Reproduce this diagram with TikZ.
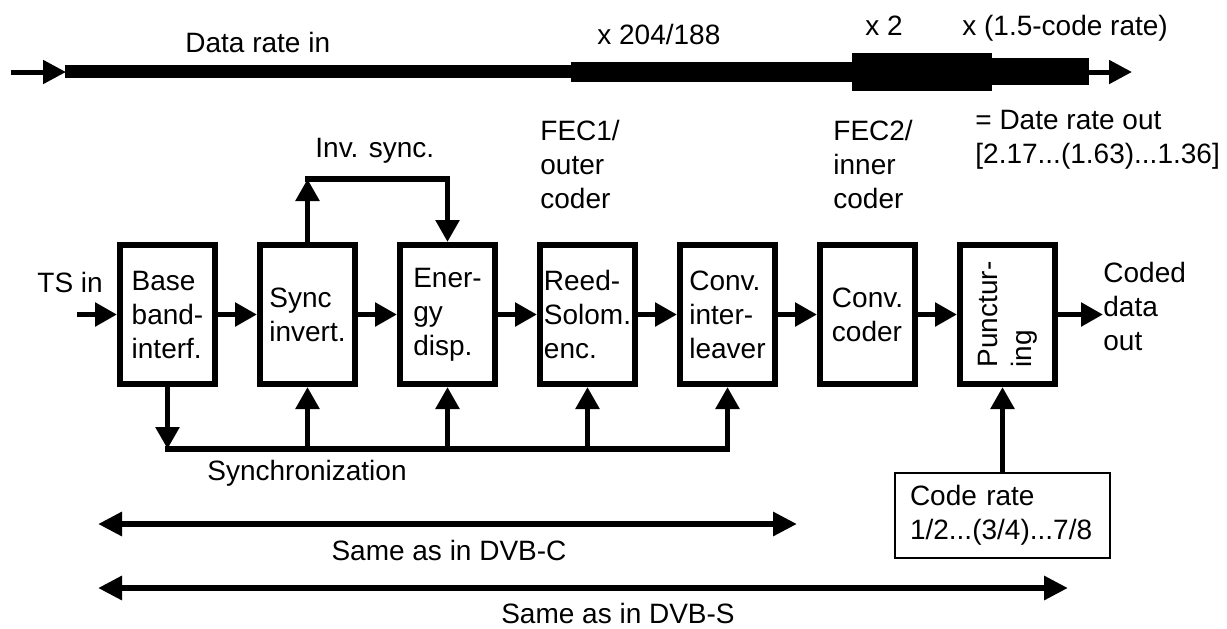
\documentclass[tikz,border=0pt]{standalone}
\usepackage{fontspec}
\setmainfont{Liberation Sans}
\usetikzlibrary{arrows.meta}

\begin{document}
\begin{tikzpicture}[x=0.5pt,y=-0.5pt,
    every node/.style={font=\fontsize{14}{17}\selectfont,inner sep=0pt},
    blk/.style={draw,line width=3pt,minimum width=47.5pt,minimum height=69.5pt,align=left},
    con/.style={line width=2.8pt,-{Triangle[length=11pt,width=11.5pt]}},
    thinarr/.style={line width=2.5pt,-{Triangle[length=11.5pt,width=11.5pt]}},
    both/.style={line width=3pt,{Triangle[length=12pt,width=11.5pt]}-{Triangle[length=12pt,width=11.5pt]}},
    lbl/.style={anchor=base west,align=left}]
    \useasboundingbox (0,0) rectangle (1227,628);

    % data rate bar
    \fill (65,65) rectangle (571,78);
    \fill (571,62) rectangle (852,82);
    \fill (852,53) rectangle (992,91);
    \fill (992,58) rectangle (1089,85);
    \coordinate (in0) at (11,72);
    \coordinate (in1) at (66,72);
    \coordinate (out0) at (1088,72);
    \coordinate (out1) at (1132,72);
    \draw[thinarr] (in0) -- (in1);
    \draw[thinarr] (out0) -- (out1);
    \node (rin) at (185,52) [lbl] {Data rate in};
    \node (r1) at (597,44) [lbl] {x 204/188};
    \node (r2) at (865,35) [lbl] {x 2};
    \node (r3) at (962,35) [lbl] {x (1.5-code rate)};
    \node (rout) at (975,140) [anchor=west,align=left] {= Date rate out\\{[2.17...(1.63)...1.36]}};

    % blocks
    \node (b1) at (167.5,314.5) [blk] {Base\\band-\\interf.};
    \node (b2) at (307.5,314.5) [blk] {Sync\\invert.};
    \node (b3) at (447.5,314.5) [blk] {Ener-\\gy\\disp.};
    \node (b4) at (587.5,314.5) [blk] {Reed-\\Solom.\\enc.};
    \node (b5) at (727.5,314.5) [blk] {Conv.\\inter-\\leaver};
    \node (b6) at (867.5,314.5) [blk] {Conv.\\coder};
    \node (b7) at (1007.5,314.5) [blk] {};
    \node (p7) at (b7) [rotate=90,align=left] {Punctur-\\ing};

    \foreach \a/\b in {b1/b2,b2/b3,b3/b4,b4/b5,b5/b6,b6/b7}
        \draw[con] (\a.east) -- (\b.west);

    \node (fec1) at (540,164) [anchor=west,align=left] {FEC1/\\outer\\coder};
    \node (fec2) at (833,164) [anchor=west,align=left] {FEC2/\\inner\\coder};

    % in and out
    \node (ts) at (37,292) [lbl] {TS in};
    \coordinate (tsa) at (77,314.5);
    \draw[con] (tsa) -- (b1.west);
    \node (cout) at (1103,306) [anchor=west,align=left] {Coded\\data\\out};
    \draw[con] (b7.east) -- (b7.east -| cout.west);

    % inverted sync
    \coordinate (inv) at (307.5,179);
    \draw[con] (b2.north) -- (inv);
    \draw[con,line cap=rect] (inv) -| (b3.north);
    \node (invl) at (315,157) [lbl] {Inv. sync.};

    % synchronization
    \coordinate (sl) at (167.5,449);
    \coordinate (sr) at (727.5,449);
    \draw[con] (b1.south) -- (sl);
    \draw[line width=2.6pt,line cap=rect] (sl) -- (sr);
    \foreach \b in {b2,b3,b4,b5}
        \draw[con] (\b.south |- sl) -- (\b.south);
    \node (syn) at (207,480) [lbl] {Synchronization};

    % code rate
    \node (rate) at (1002.5,515.5) [draw,line width=0.8pt,inner xsep=7.5pt,text width=92.5pt,minimum height=42.5pt,align=left] {Code rate\\1/2...(3/4)...7/8};
    \draw[con] (rate.north) -- (rate.north |- b7.south);

    % same as
    \coordinate (c0) at (98,524);
    \coordinate (c1) at (797,524);
    \draw[both] (c0) -- (c1);
    \node (dvbc) at (449,560) [anchor=base] {Same as in DVB-C};
    \coordinate (s0) at (98,588);
    \coordinate (s1) at (1068,588);
    \draw[both] (s0) -- (s1);
    \node (dvbs) at (618,623) [anchor=base] {Same as in DVB-S};
\end{tikzpicture}
\end{document}
